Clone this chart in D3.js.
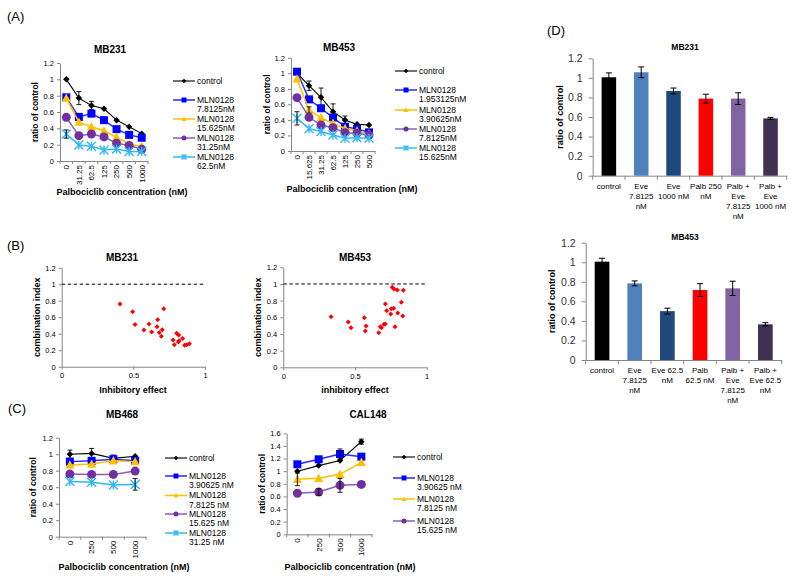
<!DOCTYPE html>
<html><head><meta charset="utf-8">
<script src="https://cdn.jsdelivr.net/npm/d3@7"></script>
<style>body{margin:0;background:#fff;} svg text{font-family:Arial,"Liberation Sans",sans-serif;}</style>
</head><body><svg id="c" width="800" height="580"></svg>
<script>
// ================= DATA =================
// (A) MB231 – viability vs palbociclib with MLN0128
const aMB231Conc = ["0","31.25","62.5","125","250","500","1000"];
const aMB231Control = [1.00,0.77,0.68,0.64,0.50,0.42,0.335];
const aMB231ControlErr = [0.03,0.08,0.05,0.02,0.02,0.02,0.02];
const aMB231Mln1 = [0.78,0.54,0.58,0.50,0.39,0.32,0.285];
const aMB231Mln1Err = [0.03,0.03,0.03,0.02,0.02,0.02,0.02];
const aMB231Mln2 = [0.77,0.475,0.42,0.37,0.29,0.205,0.18];
const aMB231Mln2Err = [0.03,0.03,0.03,0.03,0.03,0.02,0.02];
const aMB231Mln3 = [0.535,0.31,0.33,0.295,0.217,0.19,0.143];
const aMB231Mln3Err = [0.03,0.02,0.02,0.02,0.02,0.02,0.02];
const aMB231Mln4 = [0.33,0.197,0.18,0.135,0.147,0.115,0.115];
const aMB231Mln4Err = [0.05,0.02,0.02,0.02,0.02,0.02,0.02];
const aMB231Labels = [["control"],["MLN0128","7.8125nM"],["MLN0128","15.625nM"],["MLN0128","31.25nM"],["MLN0128","62.5nM"]];

// (A) MB453
const aMB453Conc = ["0","15.625","31.25","62.5","125","250","500"];
const aMB453Control = [1.00,0.84,0.69,0.506,0.40,0.343,0.334];
const aMB453ControlErr = [0.02,0.06,0.12,0.10,0.05,0.03,0.03];
const aMB453Mln1 = [1.02,0.664,0.55,0.43,0.313,0.283,0.24];
const aMB453Mln1Err = [0.02,0.03,0.03,0.02,0.02,0.02,0.02];
const aMB453Mln2 = [0.926,0.527,0.43,0.356,0.29,0.26,0.22];
const aMB453Mln2Err = [0.03,0.04,0.03,0.02,0.02,0.02,0.02];
const aMB453Mln3 = [0.686,0.433,0.334,0.30,0.236,0.227,0.206];
const aMB453Mln3Err = [0.03,0.03,0.02,0.02,0.02,0.02,0.02];
const aMB453Mln4 = [0.42,0.287,0.25,0.206,0.163,0.17,0.163];
const aMB453Mln4Err = [0.085,0.02,0.02,0.02,0.02,0.02,0.02];
const aMB453Labels = [["control"],["MLN0128","1.953125nM"],["MLN0128","3.90625nM"],["MLN0128","7.8125nM"],["MLN0128","15.625nM"]];

// (B) combination index vs inhibitory effect
const bMB231Effect = [0.407,0.495,0.512,0.712,0.574,0.609,0.628,0.670,0.665,0.681,0.702,0.695,0.777,0.786,0.802,0.816,0.814,0.819,0.844,0.858,0.872,0.891];
const bMB231CI     = [0.76,0.667,0.513,0.703,0.444,0.517,0.42,0.570,0.485,0.416,0.448,0.368,0.323,0.267,0.404,0.384,0.299,0.315,0.343,0.259,0.267,0.279];
const bMB453Effect = [0.333,0.453,0.472,0.565,0.577,0.572,0.665,0.677,0.684,0.702,0.712,0.712,0.721,0.749,0.753,0.770,0.760,0.772,0.795,0.779,0.798,0.823,0.833,0.837];
const bMB453CI     = [0.608,0.544,0.476,0.596,0.496,0.436,0.416,0.488,0.476,0.516,0.52,0.76,0.68,0.64,0.704,0.708,0.96,0.94,0.928,0.488,0.652,0.78,0.616,0.924];

// (C) MB468
const cMB468Conc = ["0","250","500","1000"];
const cMB468Control = [1.00,1.01,0.95,0.975];
const cMB468ControlErr = [0.05,0.06,0.04,0.03];
const cMB468Mln1 = [0.91,0.92,0.94,0.92];
const cMB468Mln1Err = [0.02,0.02,0.02,0.02];
const cMB468Mln2 = [0.87,0.88,0.92,0.91];
const cMB468Mln2Err = [0.02,0.02,0.02,0.02];
const cMB468Mln3 = [0.76,0.755,0.755,0.795];
const cMB468Mln3Err = [0.02,0.02,0.02,0.02];
const cMB468Mln4 = [0.67,0.66,0.626,0.634];
const cMB468Mln4Err = [0.03,0.03,0.03,0.07];
const cMB468Labels = [["control"],["MLN0128","3.90625 nM"],["MLN0128","7.8125 nM"],["MLN0128","15.625 nM"],["MLN0128","31.25 nM"]];

// (C) CAL148
const cCAL148Conc = ["0","250","500","1000"];
const cCAL148Control = [1.00,1.088,1.17,1.468];
const cCAL148ControlErr = [0.03,0.03,0.03,0.04];
const cCAL148Mln1 = [1.109,1.188,1.272,1.23];
const cCAL148Mln1Err = [0.02,0.03,0.08,0.02];
const cCAL148Mln2 = [0.871,0.887,0.95,1.14];
const cCAL148Mln2Err = [0.10,0.02,0.03,0.03];
const cCAL148Mln3 = [0.65,0.67,0.776,0.79];
const cCAL148Mln3Err = [0.02,0.05,0.11,0.02];
const cCAL148Labels = [["control"],["MLN0128","3.90625 nM"],["MLN0128","7.8125 nM"],["MLN0128","15.625 nM"]];

// (D) bar charts
const dMB231Cats = [["control"],["Eve","7.8125","nM"],["Eve","1000 nM"],["Palb 250","nM"],["Palb +","Eve","7.8125","nM"],["Palb +","Eve","1000 nM"]];
const dMB231Vals = [1.006,1.057,0.866,0.788,0.788,0.586];
const dMB231Errs = [0.045,0.055,0.03,0.045,0.06,0.01];
const dMB453Cats = [["control"],["Eve","7.8125","nM"],["Eve 62.5","nM"],["Palb","62.5 nM"],["Palb +","Eve","7.8125","nM"],["Palb +","Eve 62.5","nM"]];
const dMB453Vals = [1.006,0.784,0.50,0.716,0.733,0.365];
const dMB453Errs = [0.035,0.025,0.03,0.065,0.073,0.017];
const dBarColors = ["#000000","#4f81bd","#1f497d","#ff0000","#8064a2","#3f3151"];

const ticks12 = [0,0.2,0.4,0.6,0.8,1,1.2];
const ticks16 = [0,0.2,0.4,0.6,0.8,1,1.2,1.4,1.6];

// ================= DRAWING =================
const svg = d3.select("#c");
const AX = "#868686";
const fmt = d3.format("~g");

function txt(g, x, y, s, o = {}) {
  const t = g.append("text").attr("x", x).attr("y", y).attr("dy", "0.35em")
    .attr("font-size", o.size || 9).attr("font-weight", o.bold ? "bold" : "normal")
    .attr("text-anchor", o.anchor || "middle").attr("fill", o.fill || "#000").text(s);
  if (o.rotate) t.attr("transform", `rotate(${o.rotate},${x},${y})`);
  return t;
}

const seriesStyle = [
  {type: "diamond", color: "#000000", line: "#000000", lw: 1.1, size: 6.5},
  {type: "square", color: "#0000ff", line: "#2a2aff", lw: 1.5, size: 8},
  {type: "triangle", color: "#ffc000", line: "#ffc000", lw: 1.5, size: 9},
  {type: "circle", color: "#7030a0", line: "#8a5cc0", lw: 1.5, size: 9},
  {type: "asterisk", color: "#33b8f5", line: "#33b8f5", lw: 1.5, size: 9}
];

function marker(g, type, color, x, y, s) {
  const r = s / 2;
  if (type === "asterisk") {
    g.append("path").attr("d", `M${x - r},${y - r}L${x + r},${y + r}M${x - r},${y + r}L${x + r},${y - r}M${x},${y - r}L${x},${y + r}`)
      .attr("stroke", color).attr("stroke-width", 1.4).attr("fill", "none");
  } else if (type === "circle") {
    g.append("circle").attr("cx", x).attr("cy", y).attr("r", r).attr("fill", color);
  } else if (type === "square") {
    g.append("rect").attr("x", x - r).attr("y", y - r).attr("width", s).attr("height", s).attr("fill", color);
  } else if (type === "triangle") {
    g.append("path").attr("d", `M${x},${y - r * 1.05}L${x + r},${y + r * 0.8}L${x - r},${y + r * 0.8}Z`).attr("fill", color);
  } else if (type === "diamond") {
    g.append("path").attr("d", `M${x},${y - r}L${x + r},${y}L${x},${y + r}L${x - r},${y}Z`).attr("fill", color);
  }
}

function styleAxis(a, size) {
  a.selectAll("path.domain").attr("stroke", AX);
  a.selectAll(".tick line").attr("stroke", AX);
  a.selectAll("text").attr("font-size", size).attr("fill", "#000");
}

function linePanel(c) {
  const g = svg.append("g");
  const x = d3.scaleBand().domain(c.cats).range([c.x0, c.x1]);
  const y = d3.scaleLinear().domain([0, c.yMax]).range([c.yBot, c.yTop]);
  const ya = g.append("g").attr("transform", `translate(${c.x0},0)`)
    .call(d3.axisLeft(y).tickValues(c.yTicks).tickFormat(fmt).tickSize(3).tickSizeOuter(0).tickPadding(3));
  styleAxis(ya, 7.5);
  const xa = g.append("g").attr("transform", `translate(0,${c.yBot})`)
    .call(d3.axisBottom(x).tickSize(0).tickSizeOuter(0));
  styleAxis(xa, 8);
  xa.selectAll("text").attr("transform", "rotate(-90)").attr("text-anchor", "end")
    .attr("x", -4).attr("y", 0).attr("dy", "0.35em");
  d3.range(c.cats.length + 1).forEach(i => {
    const xx = c.x0 + i * x.step();
    g.append("line").attr("x1", xx).attr("x2", xx).attr("y1", c.yBot).attr("y2", c.yBot + 3).attr("stroke", AX);
  });
  c.series.forEach((s, k) => {
    const st = seriesStyle[k];
    const pts = s.vals.map((v, i) => [x(c.cats[i]) + x.bandwidth() / 2, y(v)]);
    g.append("path").attr("d", d3.line()(pts)).attr("fill", "none").attr("stroke", st.line).attr("stroke-width", st.lw);
    pts.forEach(p => marker(g, st.type, st.color, p[0], p[1], st.size));
    s.errs.forEach((e, i) => {
      const px = pts[i][0], y1 = y(s.vals[i] + e), y2 = y(s.vals[i] - e);
      if (Math.abs(y2 - y1) < 5) return;
      const eg = g.append("g").attr("stroke", "#000").attr("stroke-width", 0.9);
      eg.append("line").attr("x1", px).attr("x2", px).attr("y1", y1).attr("y2", y2);
      eg.append("line").attr("x1", px - 2.5).attr("x2", px + 2.5).attr("y1", y1).attr("y2", y1);
      eg.append("line").attr("x1", px - 2.5).attr("x2", px + 2.5).attr("y1", y2).attr("y2", y2);
    });
  });
  // title & axis titles
  txt(g, c.titleX, c.titleY, c.title, {size: 10, bold: true});
  txt(g, c.xtX, c.xtY, "Palbociclib concentration (nM)", {size: 9, bold: true});
  txt(g, c.ytX, (c.yTop + c.yBot) / 2, "ratio of control", {size: 8.5, bold: true, rotate: -90});
  // legend
  c.labels.forEach((lab, k) => {
    const st = seriesStyle[k];
    const ly = c.legY[k];
    g.append("line").attr("x1", c.legX).attr("x2", c.legX + 22).attr("y1", ly).attr("y2", ly)
      .attr("stroke", st.line).attr("stroke-width", st.lw);
    marker(g, st.type, st.color, c.legX + 11, ly, k === 0 ? 4.5 : 5);
    lab.forEach((l, j) => txt(g, c.legX + 24, ly + j * 9.5, l, {size: 8.5, anchor: "start"}));
  });
}

function scatterPanel(c) {
  const g = svg.append("g");
  const x = d3.scaleLinear().domain([0, 1]).range([c.x0, c.x1]);
  const y = d3.scaleLinear().domain([0, 1.2]).range([c.yBot, c.yTop]);
  const ya = g.append("g").attr("transform", `translate(${c.x0},0)`)
    .call(d3.axisLeft(y).tickValues(ticks12).tickFormat(fmt).tickSize(3).tickSizeOuter(0).tickPadding(3));
  styleAxis(ya, 7.5);
  const xa = g.append("g").attr("transform", `translate(0,${c.yBot})`)
    .call(d3.axisBottom(x).tickValues([0, 0.5, 1]).tickFormat(fmt).tickSize(3).tickSizeOuter(0).tickPadding(3));
  styleAxis(xa, 7.5);
  g.append("line").attr("x1", c.x0).attr("x2", c.x1).attr("y1", y(1)).attr("y2", y(1))
    .attr("stroke", "#000").attr("stroke-width", 1).attr("stroke-dasharray", "3.5,2.5");
  c.xs.forEach((v, i) => marker(g, "diamond", "#ff0000", x(v), y(c.ys[i]), 5));
  txt(g, c.titleX, c.titleY, c.title, {size: 10, bold: true});
  txt(g, c.xtX, c.xtY, c.xTitle, {size: 9, bold: true});
  txt(g, c.ytX, (c.yTop + c.yBot) / 2, "combination index", {size: 9, bold: true, rotate: -90});
}

function barPanel(c) {
  const g = svg.append("g");
  const idx = c.cats.map((d, i) => i);
  const x = d3.scaleBand().domain(idx).range([c.x0, c.x1]).paddingInner(0.55).paddingOuter(0.275);
  const y = d3.scaleLinear().domain([0, 1.2]).range([c.yBot, c.yTop]);
  const ya = g.append("g").attr("transform", `translate(${c.x0},0)`)
    .call(d3.axisLeft(y).tickValues(ticks12).tickFormat(fmt).tickSize(4).tickSizeOuter(0).tickPadding(6));
  styleAxis(ya, 10.5);
  ya.selectAll("text").attr("fill", "#333");
  const xa = g.append("g").attr("transform", `translate(0,${c.yBot})`)
    .call(d3.axisBottom(x).tickSize(0).tickSizeOuter(0).tickFormat(""));
  styleAxis(xa, 8);
  const step = (c.x1 - c.x0) / c.cats.length;
  d3.range(c.cats.length + 1).forEach(i => {
    const xx = c.x0 + i * step;
    g.append("line").attr("x1", xx).attr("x2", xx).attr("y1", c.yBot).attr("y2", c.yBot + 4).attr("stroke", AX);
  });
  c.vals.forEach((v, i) => {
    g.append("rect").attr("x", x(i)).attr("y", y(v)).attr("width", x.bandwidth()).attr("height", c.yBot - y(v))
      .attr("fill", dBarColors[i]);
    const px = x(i) + x.bandwidth() / 2, y1 = y(v + c.errs[i]), y2 = y(v - c.errs[i]);
    const eg = g.append("g").attr("stroke", "#000").attr("stroke-width", 1);
    eg.append("line").attr("x1", px).attr("x2", px).attr("y1", y1).attr("y2", y2);
    eg.append("line").attr("x1", px - 3).attr("x2", px + 3).attr("y1", y1).attr("y2", y1);
    eg.append("line").attr("x1", px - 3).attr("x2", px + 3).attr("y1", y2).attr("y2", y2);
    c.cats[i].forEach((l, j) => txt(g, px, c.yBot + 10 + j * 10, l, {size: 8}));
  });
  txt(g, c.titleX, c.titleY, c.title, {size: 8.5, bold: true});
  txt(g, c.ytX, (c.yTop + c.yBot) / 2, "ratio of control", {size: 9, bold: true, rotate: -90});
}

// panel letters
txt(svg, 7, 16, "(A)", {size: 13, anchor: "start"});
txt(svg, 7, 245, "(B)", {size: 13, anchor: "start"});
txt(svg, 8, 408, "(C)", {size: 13, anchor: "start"});
txt(svg, 547, 30, "(D)", {size: 13, anchor: "start"});

linePanel({x0: 60, x1: 148, yTop: 63, yBot: 161, yMax: 1.2, yTicks: ticks12, cats: aMB231Conc,
  series: [{vals: aMB231Control, errs: aMB231ControlErr}, {vals: aMB231Mln1, errs: aMB231Mln1Err},
    {vals: aMB231Mln2, errs: aMB231Mln2Err}, {vals: aMB231Mln3, errs: aMB231Mln3Err}, {vals: aMB231Mln4, errs: aMB231Mln4Err}],
  labels: aMB231Labels, legX: 173, legY: [81, 100, 119, 138, 157],
  title: "MB231", titleX: 110, titleY: 49, xtX: 122, xtY: 192, ytX: 35});

linePanel({x0: 291, x1: 375, yTop: 57.7, yBot: 151, yMax: 1.2, yTicks: ticks12, cats: aMB453Conc,
  series: [{vals: aMB453Control, errs: aMB453ControlErr}, {vals: aMB453Mln1, errs: aMB453Mln1Err},
    {vals: aMB453Mln2, errs: aMB453Mln2Err}, {vals: aMB453Mln3, errs: aMB453Mln3Err}, {vals: aMB453Mln4, errs: aMB453Mln4Err}],
  labels: aMB453Labels, legX: 395, legY: [71, 90, 110, 129, 148],
  title: "MB453", titleX: 339, titleY: 47, xtX: 352, xtY: 189, ytX: 267});

scatterPanel({x0: 61.7, x1: 205, yTop: 267.7, yBot: 366.7, xs: bMB231Effect, ys: bMB231CI,
  title: "MB231", titleX: 122, titleY: 257, xTitle: "Inhibitory effect", xtX: 133, xtY: 390, ytX: 37});
scatterPanel({x0: 283.3, x1: 426.7, yTop: 267.3, yBot: 367.3, xs: bMB453Effect, ys: bMB453CI,
  title: "MB453", titleX: 355, titleY: 257, xTitle: "inhibitory effect", xtX: 355, xtY: 390, ytX: 258});

linePanel({x0: 59, x1: 146, yTop: 437.7, yBot: 536.7, yMax: 1.2, yTicks: ticks12, cats: cMB468Conc,
  series: [{vals: cMB468Control, errs: cMB468ControlErr}, {vals: cMB468Mln1, errs: cMB468Mln1Err},
    {vals: cMB468Mln2, errs: cMB468Mln2Err}, {vals: cMB468Mln3, errs: cMB468Mln3Err}, {vals: cMB468Mln4, errs: cMB468Mln4Err}],
  labels: cMB468Labels, legX: 165, legY: [458, 476, 495.5, 514, 533],
  title: "MB468", titleX: 122, titleY: 414, xtX: 124, xtY: 567, ytX: 33});

linePanel({x0: 286.7, x1: 372, yTop: 433.3, yBot: 534.3, yMax: 1.6, yTicks: ticks16, cats: cCAL148Conc,
  series: [{vals: cCAL148Control, errs: cCAL148ControlErr}, {vals: cCAL148Mln1, errs: cCAL148Mln1Err},
    {vals: cCAL148Mln2, errs: cCAL148Mln2Err}, {vals: cCAL148Mln3, errs: cCAL148Mln3Err}],
  labels: cCAL148Labels, legX: 393, legY: [457, 478, 499, 521],
  title: "CAL148", titleX: 368, titleY: 414, xtX: 350, xtY: 567, ytX: 262});

barPanel({x0: 592.7, x1: 786.7, yTop: 58.3, yBot: 175.7, cats: dMB231Cats, vals: dMB231Vals, errs: dMB231Errs,
  title: "MB231", titleX: 685, titleY: 47, ytX: 560});
barPanel({x0: 585.7, x1: 781.7, yTop: 242.7, yBot: 360, cats: dMB453Cats, vals: dMB453Vals, errs: dMB453Errs,
  title: "MB453", titleX: 685, titleY: 237, ytX: 552});
</script></body></html>
